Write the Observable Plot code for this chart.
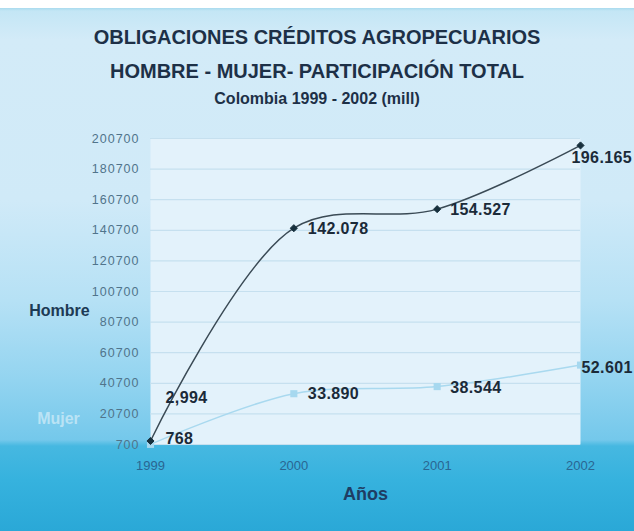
<!DOCTYPE html>
<html>
<head>
<meta charset="utf-8">
<script src="https://cdn.jsdelivr.net/npm/d3@7"></script>
<script src="https://cdn.jsdelivr.net/npm/@observablehq/plot@0.6"></script>
<style>
  html, body { margin: 0; padding: 0; background: #ffffff; }
  #wrap {
    position: relative; width: 634px; height: 531px; overflow: hidden;
    font-family: "Liberation Sans", Arial, sans-serif;
    background: linear-gradient(to bottom,
      #ffffff 0px, #ffffff 8px, #a9dbee 8px, #c4e6f5 11px,
      #d3ebf8 40px, #d0eaf8 200px, #b6e1f5 300px, #93d4f0 380px,
      #74c8eb 440px, #46b8e1 446px, #36b2de 480px, #2aa8d7 531px);
  }
  #title { height: 120px; text-align: center; color: #1d3047; font-weight: bold; }
  #title .t1 { position: absolute; left: 0; width: 634px; top: 26px; font-size: 20px; }
  #title .t2 { position: absolute; left: 0; width: 634px; top: 60px; font-size: 20px; }
  #title .t3 { position: absolute; left: 0; width: 634px; top: 90px; font-size: 16px; }
  svg { display: block; }
</style>
</head>
<body>
<div id="wrap">
  <div id="title">
    <div class="t1">OBLIGACIONES CRÉDITOS AGROPECUARIOS</div>
    <div class="t2">HOMBRE - MUJER- PARTICIPACIÓN TOTAL</div>
    <div class="t3">Colombia 1999 - 2002 (mill)</div>
  </div>
  <div id="chart"></div>
</div>
<script>
const years = [1999, 2000, 2001, 2002];
const hombre = [2994, 142078, 154527, 196165];
const mujer = [768, 33890, 38544, 52601];
const hombreLabels = ["2,994", "142.078", "154.527", "196.165"];
const mujerLabels = ["768", "33.890", "38.544", "52.601"];
const yTicks = [700, 20700, 40700, 60700, 80700, 100700, 120700, 140700, 160700, 180700, 200700];

const H = years.map((y, i) => ({year: y, value: hombre[i], label: hombreLabels[i]}));
const M = years.map((y, i) => ({year: y, value: mujer[i], label: mujerLabels[i]}));

// per-label offsets (style only)
const hOff = [[15, -43], [14, 1], [13, 1], [-9, 12]];
const mOff = [[15, -6], [14, 0], [13, 1], [1, 3]];

const chart = Plot.plot({
  width: 634,
  height: 411,
  marginTop: 18,
  marginBottom: 87,
  marginLeft: 150,
  marginRight: 54,
  style: {fontFamily: "Liberation Sans, Arial, sans-serif", fontSize: "12px", background: "transparent", overflow: "visible"},
  x: {domain: [1999, 2002]},
  y: {domain: [700, 200700]},
  marks: [
    Plot.frame({fill: "#e3f2fb", stroke: null}),
    Plot.gridY(yTicks, {stroke: "#c6e0ef", strokeOpacity: 1, strokeWidth: 1.2}),
    Plot.axisY({ticks: yTicks, tickSize: 0, tickPadding: 11, tickFormat: d => String(d), color: "#50748b", label: null, fontSize: 12.5}),
    Plot.axisX({ticks: years, tickSize: 0, tickPadding: 16, tickFormat: d => String(d), color: "#2a6692", label: null, fontSize: 13}),
    Plot.line(M, {x: "year", y: "value", stroke: "#a9d9ef", strokeWidth: 1.5, curve: "catmull-rom"}),
    Plot.dot(M, {x: "year", y: "value", symbol: "square", r: 4, fill: "#a6d8ef", stroke: null}),
    Plot.line(H, {x: "year", y: "value", stroke: "#3a4a55", strokeWidth: 1.5, curve: "catmull-rom"}),
    Plot.dot(H, {x: "year", y: "value", symbol: "diamond2", r: 3.2, fill: "#17303d", stroke: "#17303d", strokeWidth: 1}),
    Plot.text(H, {x: "year", y: "value", text: "label", textAnchor: "start", fontSize: 16, fontWeight: "bold", fill: "#1b2a38"}),
    Plot.text(M, {x: "year", y: "value", text: "label", textAnchor: "start", fontSize: 16, fontWeight: "bold", fill: "#1b2a38"}),
    Plot.text(["Años"], {frameAnchor: "bottom", dx: 0, dy: 55, fontSize: 18, fontWeight: "bold", fill: "#1f3d63"}),
    Plot.text(["Hombre"], {frameAnchor: "left", dx: -91, dy: 19, textAnchor: "middle", fontSize: 16, fontWeight: "bold", fill: "#1d3a54"}),
    Plot.text(["Mujer"], {frameAnchor: "left", dx: -92, dy: 127, textAnchor: "middle", fontSize: 16, fontWeight: "bold", fill: "#d6eef9", fillOpacity: 0.7})
  ]
});

// apply per-label offsets and letter spacing to the value labels
const textGroups = chart.querySelectorAll('g[aria-label="text"]');
[hOff, mOff].forEach((offs, gi) => {
  const g = textGroups[gi];
  if (!g) return;
  g.setAttribute("letter-spacing", "0.4");
  g.querySelectorAll("text").forEach((t, i) => {
    const [dx, dy] = offs[i];
    const tr = t.getAttribute("transform") || "";
    t.setAttribute("transform", tr + ` translate(${dx},${dy})`);
  });
});
const yAxis = chart.querySelector('g[aria-label="y-axis tick label"]');
if (yAxis) yAxis.setAttribute("letter-spacing", "1");

document.getElementById("chart").appendChild(chart);
</script>
</body>
</html>
